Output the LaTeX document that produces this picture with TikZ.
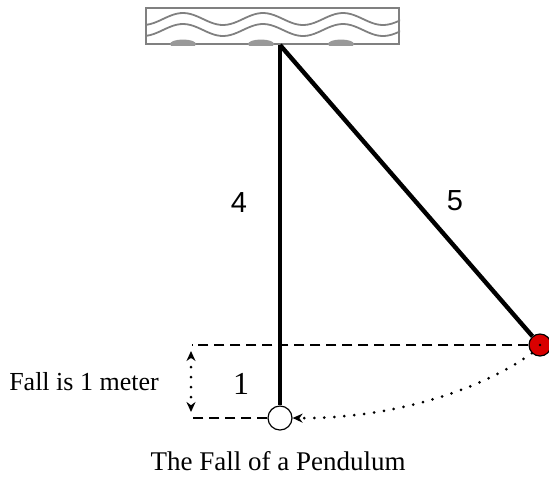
\documentclass[tikz,border=0pt]{standalone}
\usepackage{fontspec}
\setmainfont{Liberation Serif}
\newfontfamily\numfont{Liberation Sans}
\usetikzlibrary{arrows.meta}

\begin{document}
\begin{tikzpicture}[x=0.5pt, y=-0.5pt, font=\fontsize{13}{15}\selectfont,
  rod/.style={line width=2.2pt},
  guide/.style={dash pattern=on 5pt off 3pt, line width=0.7pt},
  motion/.style={line width=1.5pt, line cap=round, dash pattern=on 0pt off 5pt},
  bob/.style={circle, draw, line width=0.6pt, inner sep=0pt},
  numlabel/.style={font=\numfont\fontsize{14.5}{16}\selectfont},
  >={Stealth[length=5pt, width=4.5pt]}]
\useasboundingbox (0,0) rectangle (549,478);
% ceiling block
\node[draw=gray, line width=1pt, minimum width=126.5pt, minimum height=18pt, inner sep=0pt] (ceiling) at (272.5,26) {};
\begin{scope}
  \clip (ceiling.north west) rectangle (ceiling.south east);
  \draw[gray, line width=0.9pt] plot[domain=140:405, samples=80] (\x, {19+6*sin((\x-203)*4.5)});
  \draw[gray, line width=0.9pt] plot[domain=140:405, samples=80] (\x, {30+6*sin((\x-203)*4.5)});
  \foreach \bx in {183,261,341}
    \fill[gray!80] (\bx,44) ellipse (13 and 4.5);
\end{scope}
% bobs
\node[bob, fill=red!85!black, minimum size=11pt] (swing) at (540,345) {};
\node[bob, fill=white, minimum size=12pt] (rest) at (280,418) {};
\fill (swing.center) circle (0.7pt);
\coordinate (pivot) at (rest |- ceiling.south);
\coordinate (topleft) at (192,345);
\coordinate (botleft) at (192,418);
\coordinate (falltop) at (191,351);
\coordinate (fallbot) at (191,412);
% guides
\draw[guide] (swing.west) -- (topleft);
\draw[guide] (rest.west) -- (botleft);
\draw[motion, <->] (falltop) -- (fallbot);
% rods
\draw[rod] (pivot) -- (rest.north);
\draw[rod] (pivot) -- (swing);
\draw[motion, ->] (swing.south west) .. controls (472,396) and (380,419) .. (rest.east);
% labels
\node[numlabel] (lenrest) at (239,203) {4};
\node[numlabel] (lenswing) at (455,201) {5};
\node[font=\fontsize{16}{18}\selectfont] (drop) at (241,384) {1};
\node (fallnote) at (84,382) {Fall is 1 meter};
\node (caption) at (278,461) {\fontsize{13.5}{16}\selectfont The Fall of a Pendulum};
\end{tikzpicture}
\end{document}
